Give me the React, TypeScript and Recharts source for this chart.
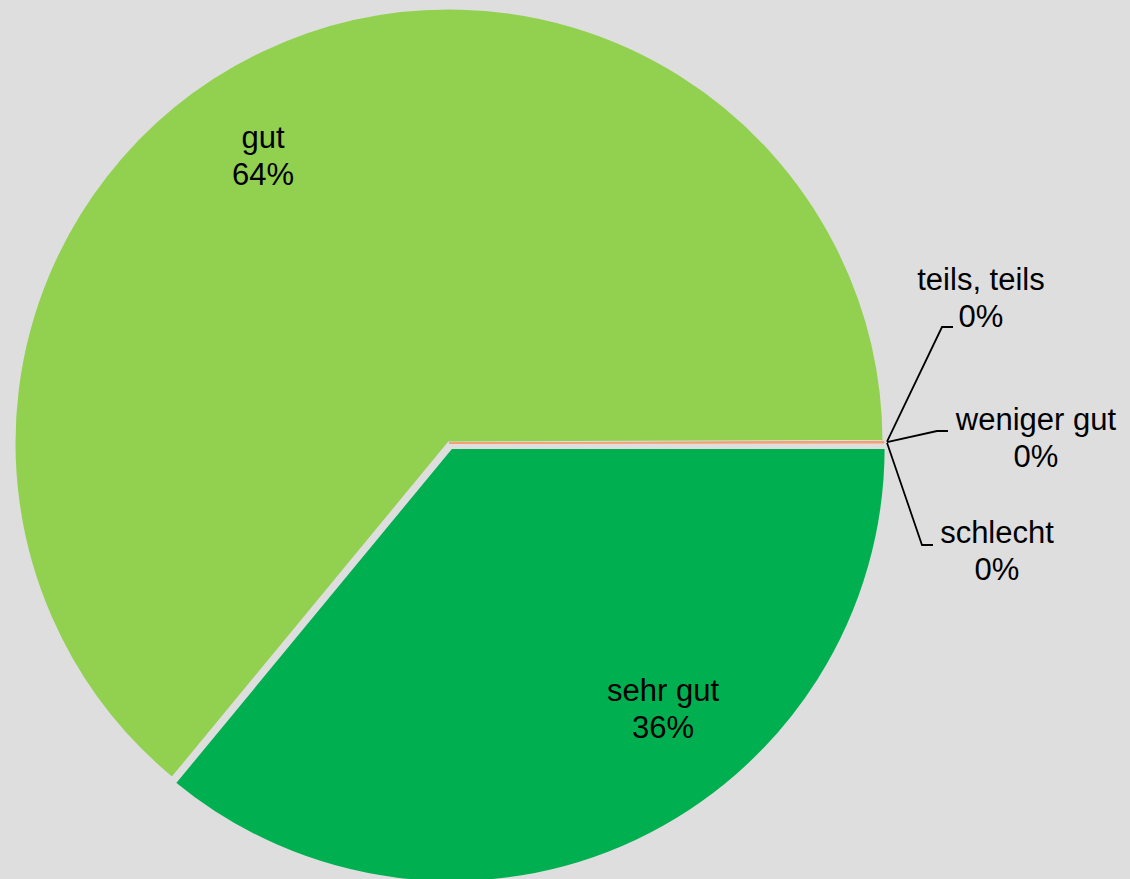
import { PieChart, Pie, Cell } from 'recharts'

const CATEGORIES = ['sehr gut', 'gut', 'teils, teils', 'weniger gut', 'schlecht']
const SHARES = [36, 64, 0.02, 0.02, 0.02]
const COLORS = ['#00b050', '#92d050', '#f4a070', '#f4a070', '#f4a070']

const BG = '#dedede'
const RAD = Math.PI / 180
const EXPLODE = 5

// label placement relative to the pie centre (text x, first baseline, optional leader elbow)
const LABEL_LAYOUT = [
  { tx: 214, ty: 258, leader: null },
  { tx: -186, ty: -295, leader: null },
  { tx: 532, ty: -153, leader: { ex: 493, ey: -116, hx: 504 } },
  { tx: 587, ty: -13, leader: { ex: 488, ey: -12, hx: 499 } },
  { tx: 548, ty: 100, leader: { ex: 473, ey: 102, hx: 484 } },
]

const data = CATEGORIES.map((name, i) => ({ name, value: SHARES[i] }))

const CX = 449
const CY = 443
const R = 435
const FONT = "'Liberation Sans', Arial, sans-serif"

function renderLabel(props: any) {
  const { cx, cy, midAngle, outerRadius, index, percent, name } = props
  const lay = LABEL_LAYOUT[index]
  const pct = `${Math.round(percent * 100)}%`
  let line = null
  if (lay.leader) {
    const sx = cx + (outerRadius + 3) * Math.cos(-midAngle * RAD)
    const sy = cy + (outerRadius + 3) * Math.sin(-midAngle * RAD)
    const { ex, ey, hx } = lay.leader
    line = (
      <polyline
        points={`${sx},${sy} ${cx + ex},${cy + ey} ${cx + hx},${cy + ey}`}
        fill="none"
        stroke="#000"
        strokeWidth={1.8}
      />
    )
  }
  return (
    <g key={`lbl-${index}`}>
      {line}
      <text x={cx + lay.tx} y={cy + lay.ty} textAnchor="middle" fill="#000" fontSize={31} fontFamily={FONT}>
        {name}
      </text>
      <text x={cx + lay.tx} y={cy + lay.ty + 37} textAnchor="middle" fill="#000" fontSize={31} fontFamily={FONT}>
        {pct}
      </text>
    </g>
  )
}

export default function App() {
  // "sehr gut" is pulled out of the pie a little, so it gets its own shifted copy
  const mid = -(SHARES[0] / SHARES.reduce((a, b) => a + b, 0)) * 180
  const dx = EXPLODE * Math.cos(-mid * RAD)
  const dy = EXPLODE * Math.sin(-mid * RAD)

  return (
    <div style={{ position: 'absolute', left: 0, top: 0, width: 1130, height: 879, background: BG, overflow: 'hidden' }}>
      <PieChart width={1130} height={879} margin={{ top: 0, right: 0, bottom: 0, left: 0 }}>
        <Pie
          data={data}
          dataKey="value"
          nameKey="name"
          cx={CX}
          cy={CY}
          outerRadius={R}
          startAngle={0}
          endAngle={-360}
          label={renderLabel}
          labelLine={false}
          isAnimationActive={false}
        >
          {data.map((_, i) => (
            <Cell
              key={i}
              fill={i === 0 ? 'transparent' : COLORS[i]}
              stroke={i === 0 ? 'none' : i === 1 ? BG : COLORS[i]}
              strokeWidth={i === 1 ? 3 : 1}
            />
          ))}
        </Pie>
        <Pie
          data={data}
          dataKey="value"
          nameKey="name"
          cx={CX + dx}
          cy={CY + dy}
          outerRadius={R}
          startAngle={0}
          endAngle={-360}
          label={false}
          labelLine={false}
          isAnimationActive={false}
        >
          {data.map((_, i) => (
            <Cell key={i} fill={i === 0 ? COLORS[0] : 'transparent'} stroke={i === 0 ? BG : 'none'} strokeWidth={3} />
          ))}
        </Pie>
      </PieChart>
    </div>
  )
}
